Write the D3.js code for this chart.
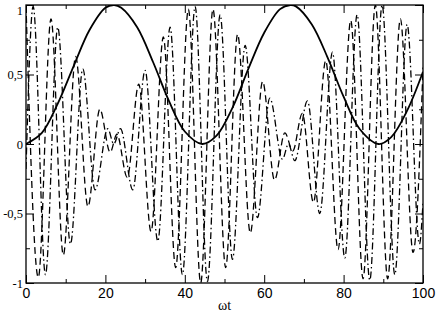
<!DOCTYPE html>
<html>
<head>
<meta charset="utf-8">
<script src="https://cdn.jsdelivr.net/npm/d3@7"></script>
<style>
    body { margin: 0; background: #fff; }
    svg { display: block; }
</style>
</head>
<body>
<div id="chart"></div>
<script>
// solid curve
const solidX = [0, 4, 8, 12, 16, 20, 22.2, 24, 28, 32, 36, 40, 44.4, 48, 52, 56, 60, 64, 66.6, 68, 72, 76, 80, 84, 88.8, 92, 96, 100];
const solidY = [0, 0.08, 0.29, 0.56, 0.82, 0.98, 1.0, 0.98, 0.84, 0.59, 0.31, 0.09, 0, 0.06, 0.26, 0.54, 0.8, 0.97, 1.0, 0.99, 0.86, 0.62, 0.34, 0.11, 0, 0.05, 0.24, 0.52];

// dashed curve: its peaks and troughs
const dashX = [0, 3.1, 6.3, 9.4, 12.5, 15.6, 18.6, 21.2, 22.9, 25.5, 28.4, 31.5, 34.6, 37.7, 40.9, 44.0, 47.1, 50.3, 53.3, 56.5, 59.6, 62.6, 65.2, 67.2, 69.6, 72.4, 75.5, 78.6, 81.8, 84.9, 88.0, 91.1, 94.3, 97.5, 100];
const dashY = [1.0, -0.96, 0.9, -0.8, 0.63, -0.45, 0.25, -0.06, 0.07, -0.24, 0.43, -0.63, 0.77, -0.89, 0.97, -1.0, 0.97, -0.89, 0.79, -0.64, 0.45, -0.26, 0.08, -0.05, 0.22, -0.42, 0.6, -0.76, 0.89, -0.97, 1.0, -0.97, 0.9, -0.78, 0.55];

// dash-dot curve: its peaks and troughs
const dotX = [0, 1.8, 4.9, 8.0, 11.2, 14.3, 17.4, 20.6, 22.1, 23.8, 26.9, 30.0, 33.2, 36.3, 39.4, 42.6, 45.7, 48.9, 52.0, 55.2, 58.3, 61.4, 64.6, 66.1, 67.7, 70.9, 74.0, 77.2, 80.3, 83.4, 86.6, 89.7, 92.9, 96.0, 99.1, 100];
const dotY = [-0.18, 0.99, -0.94, 0.84, -0.72, 0.54, -0.33, 0.11, 0.0, 0.11, -0.33, 0.53, -0.7, 0.84, -0.94, 0.99, -0.99, 0.93, -0.83, 0.71, -0.53, 0.33, -0.11, 0.0, -0.12, 0.31, -0.5, 0.66, -0.82, 0.93, -0.98, 1.0, -0.94, 0.86, -0.72, -0.42];

const xTicks = [0, 20, 40, 60, 80, 100];
const xMinor = [10, 30, 50, 70, 90];
const yTicks = [-1, -0.5, 0, 0.5, 1];
const yMinor = [-0.75, -0.25, 0.25, 0.75];
const xTitle = "ωt";

const w = 436;
const h = 312;
const mLeft = 26, mRight = 423, mTop = 5, mBottom = 283;

const svg = d3.select("#chart").append("svg").attr("width", w).attr("height", h);

const x = d3.scaleLinear().domain([0, 100]).range([mLeft, mRight]);
const y = d3.scaleLinear().domain([-1, 1]).range([mBottom, mTop]);

svg.append("clipPath").attr("id", "clip")
    .append("rect")
    .attr("x", mLeft).attr("y", mTop)
    .attr("width", mRight - mLeft).attr("height", mBottom - mTop);

const zip = (xs, ys) => xs.map((v, i) => [v, ys[i]]);

const line = d3.line()
    .x(d => x(d[0]))
    .y(d => y(d[1]))
    .curve(d3.curveMonotoneX);

const plot = svg.append("g").attr("clip-path", "url(#clip)");

plot.append("path")
    .datum(zip(dashX, dashY))
    .attr("d", line)
    .attr("fill", "none")
    .attr("stroke", "#000")
    .attr("stroke-width", 1.3)
    .attr("stroke-dasharray", "7,4");

plot.append("path")
    .datum(zip(dotX, dotY))
    .attr("d", line)
    .attr("fill", "none")
    .attr("stroke", "#000")
    .attr("stroke-width", 1.3)
    .attr("stroke-dasharray", "7,3,1.5,3");

plot.append("path")
    .datum(zip(solidX, solidY))
    .attr("d", line.curve(d3.curveCatmullRom))
    .attr("fill", "none")
    .attr("stroke", "#000")
    .attr("stroke-width", 1.8);

// axes, ticks pointing inward on all four sides
const fmt = d => String(d).replace(".", ",");

const axis = (gen, tx, ty) => {
    const g = svg.append("g").attr("transform", `translate(${tx},${ty})`).call(gen);
    g.select(".domain").remove();
    g.selectAll(".tick line").attr("stroke", "#000");
    return g;
};

const xAxis = axis(d3.axisBottom(x).tickValues(xTicks).tickSize(-8).tickPadding(5).tickFormat(d => d), 0, mBottom);
xAxis.selectAll("text")
    .attr("font-family", "'Liberation Sans', Arial, sans-serif")
    .attr("font-size", 14)
    .attr("fill", "#000");
axis(d3.axisBottom(x).tickValues(xMinor).tickSize(-4).tickFormat(""), 0, mBottom);
axis(d3.axisTop(x).tickValues(xTicks).tickSize(-8).tickFormat(""), 0, mTop);
axis(d3.axisTop(x).tickValues(xMinor).tickSize(-4).tickFormat(""), 0, mTop);

const yAxis = axis(d3.axisLeft(y).tickValues(yTicks).tickSize(-8).tickPadding(3).tickFormat(fmt), mLeft, 0);
yAxis.selectAll("text")
    .attr("font-family", "'Liberation Serif', 'Times New Roman', serif")
    .attr("font-size", 12.5)
    .attr("fill", "#000")
    .attr("dy", d => d === 1 ? "0.75em" : "0.32em");
axis(d3.axisLeft(y).tickValues(yMinor).tickSize(-4).tickFormat(""), mLeft, 0);
axis(d3.axisRight(y).tickValues(yTicks).tickSize(-8).tickFormat(""), mRight, 0);
axis(d3.axisRight(y).tickValues(yMinor).tickSize(-4).tickFormat(""), mRight, 0);

// frame
svg.append("rect")
    .attr("x", mLeft).attr("y", mTop)
    .attr("width", mRight - mLeft).attr("height", mBottom - mTop)
    .attr("fill", "none")
    .attr("stroke", "#000")
    .attr("stroke-width", 1.3);

svg.append("text")
    .text(xTitle)
    .attr("x", x(50))
    .attr("y", 310)
    .attr("text-anchor", "middle")
    .attr("font-family", "'Liberation Serif', 'Times New Roman', serif")
    .attr("font-size", 14)
    .attr("fill", "#000");
</script>
</body>
</html>
